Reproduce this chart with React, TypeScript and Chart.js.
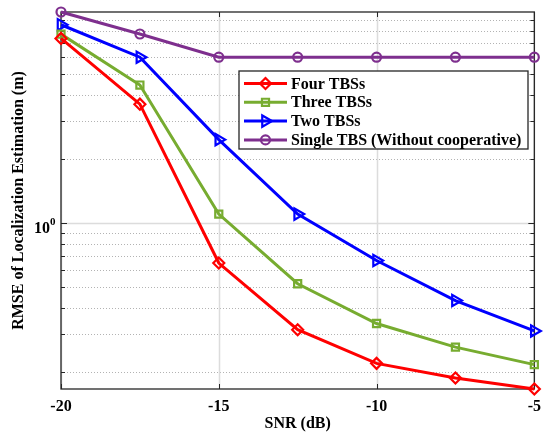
import React, { useEffect, useRef } from 'react';
import { Chart, registerables } from 'chart.js';

Chart.register(...registerables);

const snr = [-20, -17.5, -15, -12.5, -10, -7.5, -5];
const fourTBSs = [7.35, 3.61, 0.648, 0.315, 0.219, 0.187, 0.166];
const threeTBSs = [7.7, 4.44, 1.1, 0.518, 0.337, 0.261, 0.216];
const twoTBSs = [8.52, 6.0, 2.46, 1.1, 0.666, 0.432, 0.311];
const singleTBS = [9.78, 7.71, 6.0, 6.0, 6.0, 6.0, 6.0];

const xTicks = [-20, -15, -10, -5];
const yMajor = [1];
const yMinor = [0.2, 0.3, 0.4, 0.5, 0.6, 0.7, 0.8, 0.9, 2, 3, 4, 5, 6, 7, 8, 9];
const seriesNames = ['Four TBSs', 'Three TBSs', 'Two TBSs', 'Single TBS (Without cooperative)'];

const FONT = '"Liberation Serif", "Times New Roman", serif';

function drawMarker(ctx: CanvasRenderingContext2D, style: string, x: number, y: number, r: number, color: string) {
  ctx.save();
  ctx.strokeStyle = color;
  ctx.lineWidth = 2.2;
  ctx.setLineDash([]);
  ctx.beginPath();
  if (style === 'rectRot') {
    ctx.moveTo(x - r, y);
    ctx.lineTo(x, y - r);
    ctx.lineTo(x + r, y);
    ctx.lineTo(x, y + r);
    ctx.closePath();
  } else if (style === 'rect') {
    const s = r * Math.SQRT1_2;
    ctx.rect(x - s, y - s, 2 * s, 2 * s);
  } else if (style === 'triangle') {
    for (let i = 0; i < 3; i++) {
      const a = Math.PI / 2 + (i * 2 * Math.PI) / 3;
      const px = x + Math.sin(a) * r;
      const py = y - Math.cos(a) * r;
      if (i === 0) ctx.moveTo(px, py);
      else ctx.lineTo(px, py);
    }
    ctx.closePath();
  } else {
    ctx.arc(x, y, r, 0, Math.PI * 2);
  }
  ctx.stroke();
  ctx.restore();
}

const frame = {
  id: 'frame',
  beforeDatasetsDraw(chart: any) {
    const { ctx, chartArea, scales } = chart;
    const { left, right, top, bottom } = chartArea;
    const x = scales.x;
    const y = scales.y;
    ctx.save();
    // minor dotted grid
    ctx.strokeStyle = '#b3b3b3';
    ctx.lineWidth = 1;
    ctx.setLineDash([1, 2]);
    yMinor.forEach((v) => {
      const py = Math.round(y.getPixelForValue(v)) + 0.5;
      ctx.beginPath();
      ctx.moveTo(left, py);
      ctx.lineTo(right, py);
      ctx.stroke();
    });
    // major solid grid
    ctx.setLineDash([]);
    ctx.strokeStyle = '#dcdcdc';
    ctx.lineWidth = 1.5;
    yMajor.forEach((v) => {
      const py = Math.round(y.getPixelForValue(v)) + 0.5;
      ctx.beginPath();
      ctx.moveTo(left, py);
      ctx.lineTo(right, py);
      ctx.stroke();
    });
    xTicks.forEach((v) => {
      const px = Math.round(x.getPixelForValue(v)) + 0.5;
      ctx.beginPath();
      ctx.moveTo(px, top);
      ctx.lineTo(px, bottom);
      ctx.stroke();
    });
    // tick marks
    ctx.strokeStyle = '#262626';
    ctx.lineWidth = 1;
    const yt = (v: number, len: number) => {
      const py = Math.round(y.getPixelForValue(v)) + 0.5;
      ctx.beginPath();
      ctx.moveTo(left, py);
      ctx.lineTo(left + len, py);
      ctx.moveTo(right, py);
      ctx.lineTo(right - len, py);
      ctx.stroke();
    };
    yMajor.forEach((v) => yt(v, 6));
    yMinor.forEach((v) => yt(v, 4));
    xTicks.forEach((v) => {
      const px = Math.round(x.getPixelForValue(v)) + 0.5;
      ctx.beginPath();
      ctx.moveTo(px, bottom);
      ctx.lineTo(px, bottom - 5);
      ctx.moveTo(px, top);
      ctx.lineTo(px, top + 5);
      ctx.stroke();
    });
    // box
    ctx.lineWidth = 1.3;
    ctx.strokeRect(left, top, right - left, bottom - top);
    ctx.restore();
  },
  afterDatasetsDraw(chart: any) {
    const { ctx, chartArea, scales } = chart;
    const y = scales.y;
    ctx.save();
    // y tick label 10^0
    const py = y.getPixelForValue(1);
    ctx.fillStyle = '#000';
    ctx.font = `bold 16px ${FONT}`;
    ctx.textAlign = 'right';
    ctx.textBaseline = 'alphabetic';
    ctx.fillText('10', chartArea.left - 11, py + 10);
    ctx.font = `bold 11px ${FONT}`;
    ctx.textAlign = 'left';
    ctx.fillText('0', chartArea.left - 11, py + 2);

    // legend
    const bx = chartArea.left + 178;
    const by = chartArea.top + 59;
    const bw = 289;
    const bh = 78;
    ctx.fillStyle = '#ffffff';
    ctx.fillRect(bx, by, bw, bh);
    ctx.strokeStyle = '#262626';
    ctx.lineWidth = 1.3;
    ctx.strokeRect(bx, by, bw, bh);
    chart.data.datasets.forEach((ds: any, i: number) => {
      const ry = by + 12.5 + i * 18.8;
      ctx.strokeStyle = ds.borderColor;
      ctx.lineWidth = 3;
      ctx.beginPath();
      ctx.moveTo(bx + 5, ry);
      ctx.lineTo(bx + 48, ry);
      ctx.stroke();
      drawMarker(ctx, ds.pointStyle, bx + 26.5, ry, ds.pointRadius, ds.borderColor);
      ctx.fillStyle = '#000';
      ctx.font = `bold 16px ${FONT}`;
      ctx.textAlign = 'left';
      ctx.textBaseline = 'middle';
      ctx.fillText(ds.label, bx + 52, ry + 1);
    });
    ctx.restore();
  },
};

export default function App() {
  const ref = useRef<HTMLCanvasElement>(null);
  useEffect(() => {
    if (!ref.current) return;
    const mk = (label: string, vals: number[], color: string, style: string, r: number, rot = 0) => ({
      label,
      data: snr.map((s, i) => ({ x: s, y: vals[i] })),
      borderColor: color,
      backgroundColor: color,
      borderWidth: 3,
      pointStyle: style,
      pointRadius: r,
      pointRotation: rot,
      pointBorderWidth: 2.2,
      pointBackgroundColor: 'rgba(0,0,0,0)',
      pointBorderColor: color,
      tension: 0,
      clip: false as any,
    });
    const chart = new Chart(ref.current, {
      type: 'line',
      data: {
        datasets: [
          mk(seriesNames[0], fourTBSs, '#ff0000', 'rectRot', 5.5),
          mk(seriesNames[1], threeTBSs, '#77ac30', 'rect', 5),
          mk(seriesNames[2], twoTBSs, '#0000ff', 'triangle', 6.5, 90),
          mk(seriesNames[3], singleTBS, '#7e2f8e', 'circle', 4.5),
        ],
      },
      options: {
        responsive: false,
        animation: false,
        layout: { padding: { left: 0, right: 9, top: 12, bottom: 0 } },
        plugins: { legend: { display: false }, tooltip: { enabled: false } },
        scales: {
          x: {
            type: 'linear',
            min: -20,
            max: -5,
            afterBuildTicks: (s: any) => {
              s.ticks = xTicks.map((v) => ({ value: v }));
            },
            afterFit: (s: any) => {
              s.height = 43;
            },
            ticks: {
              font: { family: FONT, size: 16, weight: 'bold' },
              color: '#000',
              padding: 8,
              maxRotation: 0,
              autoSkip: false,
            },
            grid: { display: false, drawTicks: false },
            border: { display: false },
            title: {
              display: true,
              text: 'SNR (dB)',
              font: { family: FONT, size: 16, weight: 'bold', lineHeight: 1 },
              color: '#000',
              padding: { top: 0, bottom: 0 },
            },
          },
          y: {
            type: 'logarithmic',
            min: 0.166,
            max: 9.78,
            afterFit: (s: any) => {
              s.width = 61;
            },
            ticks: { display: false },
            grid: { display: false, drawTicks: false },
            border: { display: false },
            title: {
              display: true,
              text: 'RMSE of Localization Estimation (m)',
              font: { family: FONT, size: 16, weight: 'bold', lineHeight: 1 },
              color: '#000',
              padding: { top: 11, bottom: 0 },
            },
          },
        },
      },
      plugins: [frame],
    });
    return () => chart.destroy();
  }, []);
  return (
    <div style={{ position: 'fixed', left: 0, top: 0, width: 549, height: 432, background: '#fff' }}>
      <canvas ref={ref} width={549} height={432} />
    </div>
  );
}
